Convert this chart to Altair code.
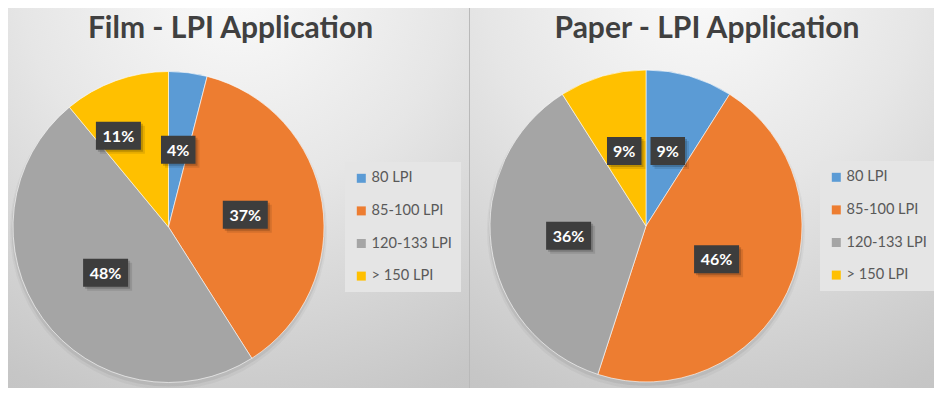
import altair as alt
import pandas as pd

# ---- data ----
categories = ["80 LPI", "85-100 LPI", "120-133 LPI", "> 150 LPI"]
film_share = [4, 37, 48, 11]
paper_share = [9, 46, 36, 9]
titles = ["Film - LPI Application", "Paper - LPI Application"]
colors = ["#5B9BD5", "#ED7D31", "#A5A5A5", "#FFC000"]

W = 926
H = 380
FONT = "Lato"


def panel_layers(title, shares, x0, x1, cx, cy, r, title_x, legend_x, legend_y,
                 divider=False, nudge=None):
    df = pd.DataFrame({"cat": categories, "share": shares,
                       "order": list(range(len(categories)))})
    one = pd.DataFrame({"k": [0]})

    grad = {
        "gradient": "radial",
        "x1": 0.5, "y1": 0.02, "r1": 0,
        "x2": 0.5, "y2": 0.02, "r2": 1.12,
        "stops": [
            {"offset": 0.0, "color": "#fbfbfb"},
            {"offset": 0.42, "color": "#e6e6e6"},
            {"offset": 0.88, "color": "#c6c6c6"},
            {"offset": 1.0, "color": "#c2c2c2"},
        ],
    }
    bg = alt.Chart(one).mark_rect(fill=grad).encode(
        x=alt.value(x0), x2=alt.value(x1), y=alt.value(0), y2=alt.value(H)
    )

    ttl = alt.Chart(pd.DataFrame({"t": [title]})).mark_text(
        font=FONT, fontWeight="bold", fontSize=30, color="#404040",
        align="center", baseline="alphabetic"
    ).encode(x=alt.value(title_x), y=alt.value(29.5), text="t:N")

    # soft drop shadow under the pie
    sh_a = alt.Chart(one).mark_arc(radius=r + 3, theta=0, theta2=6.2832,
                                   color="#000000", opacity=0.035).encode(
        x=alt.value(cx), y=alt.value(cy + 4))
    sh_b = alt.Chart(one).mark_arc(radius=r + 1.5, theta=0, theta2=6.2832,
                                   color="#000000", opacity=0.06).encode(
        x=alt.value(cx), y=alt.value(cy + 2.5))

    arcs = alt.Chart(df).mark_arc(radius=r, stroke="#ffffff", strokeWidth=0.6).encode(
        theta=alt.Theta("share:Q", stack=True),
        color=alt.Color(
            "cat:N",
            scale=alt.Scale(domain=categories, range=colors),
            sort=categories,
            legend=alt.Legend(
                orient="none", legendX=legend_x, legendY=legend_y, title=None,
                fillColor="#e5e5e5", padding=9, symbolType="square",
                symbolSize=81, symbolStrokeWidth=0, labelFont=FONT,
                labelFontSize=14.6, labelColor="#595959", rowPadding=17.6,
                labelOffset=3,
            ),
        ),
        order=alt.Order("order:Q"),
        x=alt.value(cx), y=alt.value(cy),
    )

    R = r * 0.5
    lab = (
        alt.Chart(df)
        .transform_joinaggregate(total="sum(share)")
        .transform_window(cum="sum(share)", sort=[alt.SortField("order", order="ascending")],
                          frame=[None, 0])
        .transform_calculate(a="2*PI*(datum.cum - datum.share/2)/datum.total")
    )
    if nudge is not None:
        cat, da, rr = nudge
        lab = lab.transform_calculate(
            a2=f"datum.cat == '{cat}' ? datum.a + ({da}) : datum.a",
            R2=f"datum.cat == '{cat}' ? {rr} : {R}",
        )
    else:
        lab = lab.transform_calculate(a2="datum.a", R2=f"{R}")
    lab = lab.transform_calculate(
        lx=f"{cx} + datum.R2*sin(datum.a2)",
        ly=f"{cy} - datum.R2*cos(datum.a2)",
        txt="datum.share + '%'",
    ).transform_calculate(
        w="13.5 + 10.5*length(datum.txt)",
    ).transform_calculate(
        bx1="datum.lx - datum.w/2", bx2="datum.lx + datum.w/2",
        by1="datum.ly - 14", by2="datum.ly + 14",
    )
    xs = dict(scale=None, axis=None)
    shadow1 = lab.mark_rect(color="#000000", opacity=0.10, xOffset=4, x2Offset=4,
                            yOffset=4, y2Offset=4).encode(
        x=alt.X("bx1:Q", **xs), x2="bx2:Q", y=alt.Y("by1:Q", **xs), y2="by2:Q")
    shadow2 = lab.mark_rect(color="#000000", opacity=0.18, xOffset=2, x2Offset=2,
                            yOffset=2, y2Offset=2).encode(
        x=alt.X("bx1:Q", **xs), x2="bx2:Q", y=alt.Y("by1:Q", **xs), y2="by2:Q")
    box = lab.mark_rect(color="#3d3d3d").encode(
        x=alt.X("bx1:Q", **xs), x2="bx2:Q", y=alt.Y("by1:Q", **xs), y2="by2:Q")
    txt = lab.mark_text(font=FONT, fontWeight="bold", fontSize=16, color="#ffffff",
                        align="center", baseline="middle", dy=1).encode(
        x=alt.X("lx:Q", **xs), y=alt.Y("ly:Q", **xs), text="txt:N")

    deco = [bg]
    if divider:
        deco.append(
            alt.Chart(one).mark_rule(color="#b9b9b9", strokeWidth=1).encode(
                x=alt.value(x0 + 0.5), y=alt.value(0), y2=alt.value(H))
        )
    deco += [ttl, sh_a, sh_b]
    return deco, arcs, [shadow1, shadow2, box, txt]


d1, a1, l1 = panel_layers(titles[0], film_share, 0, 461, 160.5, 219, 155.5, 222.5, 337, 154,
                          nudge=("> 150 LPI", -0.157, 104))
d2, a2, l2 = panel_layers(titles[1], paper_share, 461, W, 461 + 177, 218, 156, 461 + 238,
                          812, 153, divider=True)

chart = (
    alt.layer(*d1, *d2, a1, a2, *l1, *l2)
    .resolve_scale(color="independent")
    .properties(width=W, height=H, padding=0, background="#d4d4d4",
                autosize=alt.AutoSizeParams(type="none"))
    .configure_view(stroke=None)
)

chart.save("out.html", embed_options={"renderer": "svg", "actions": False})
